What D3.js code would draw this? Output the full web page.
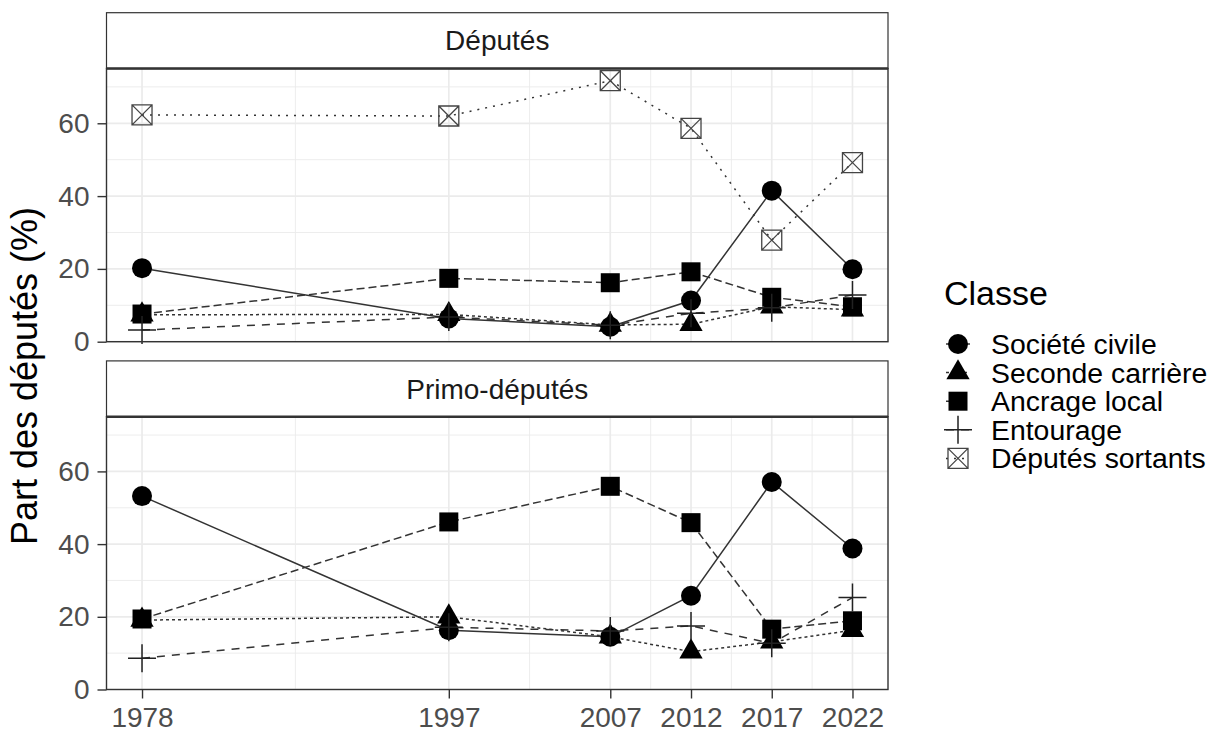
<!DOCTYPE html>
<html>
<head>
<meta charset="utf-8">
<script src="https://cdn.jsdelivr.net/npm/d3@7"></script>
<style>
  html, body { margin: 0; padding: 0; background: #fff; }
  svg { display: block; font-family: "Liberation Sans", Arial, Helvetica, sans-serif; }
</style>
</head>
<body>
<svg id="chart" width="1210" height="733"></svg>
<script>
// ---- data ----
const years = [1978, 1997, 2007, 2012, 2017, 2022];
const classes = ["Société civile", "Seconde carrière", "Ancrage local", "Entourage", "Députés sortants"];
const panels = ["Députés", "Primo-députés"];
const yTicks = [0, 20, 40, 60];
const yMinor = [10, 30, 50, 70];

// Députés panel
const deputesSocieteCivile   = [20.2, 6.4, 4.1, 11.3, 41.5, 19.9];
const deputesSecondeCarriere = [7.4, 7.5, 4.6, 4.8, 9.6, 8.8];
const deputesAncrageLocal    = [7.6, 17.4, 16.2, 19.2, 12.2, 9.6];
const deputesEntourage       = [3.2, 6.8, 4.5, 7.8, 9.3, 12.8];
const deputesSortants        = [62.3, 62.0, 71.7, 58.6, 27.9, 49.2];

// Primo-députés panel
const primoSocieteCivile   = [53.2, 16.3, 14.5, 25.8, 57.1, 38.8];
const primoSecondeCarriere = [19.1, 20.0, 14.5, 10.4, 13.1, 16.3];
const primoAncrageLocal    = [19.4, 46.1, 55.9, 45.9, 16.6, 18.9];
const primoEntourage       = [8.6, 17.1, 16.1, 17.5, 12.7, 25.3];

const panelData = [
  [deputesSocieteCivile, deputesSecondeCarriere, deputesAncrageLocal, deputesEntourage, deputesSortants],
  [primoSocieteCivile, primoSecondeCarriere, primoAncrageLocal, primoEntourage, null]
];

// ---- styles ----
const dashes = [null, "3,3", "8,4", "8,7", "2,6"];
const FONT_TICK = 28;
const gridCol = "#EBEBEB";
const dark = "#333333";

const svg = d3.select("#chart");

const left = 106.5, right = 888;
const x = d3.scaleLinear().domain([1975.8, 2024.2]).range([left, right]);
const panelBoxes = [
  { stripTop: 12.7, top: 68.5, bottom: 341.7 },
  { stripTop: 360.9, top: 416.7, bottom: 689.5 }
];

// Symbol drawer
function drawSymbol(g, k, cx, cy) {
  if (k === 0) {
    g.append("circle").attr("cx", cx).attr("cy", cy).attr("r", 10).attr("fill", "#000");
  } else if (k === 1) {
    g.append("path").attr("transform", `translate(${cx},${cy})`)
      .attr("d", d3.symbol().type(d3.symbolTriangle).size(235)()).attr("fill", "#000");
  } else if (k === 2) {
    g.append("rect").attr("x", cx - 9.5).attr("y", cy - 9.5).attr("width", 19).attr("height", 19).attr("fill", "#000");
  } else if (k === 3) {
    g.append("path").attr("d", `M${cx-14},${cy}H${cx+14}M${cx},${cy-14}V${cy+14}`)
      .attr("stroke", "#222").attr("stroke-width", 1.5).attr("fill", "none");
  } else {
    const h = 10;
    g.append("path").attr("d",
      `M${cx-h},${cy-h}H${cx+h}V${cy+h}H${cx-h}Z M${cx-h},${cy-h}L${cx+h},${cy+h} M${cx+h},${cy-h}L${cx-h},${cy+h}`)
      .attr("stroke", "#444").attr("stroke-width", 1.3).attr("fill", "none");
  }
}

panelBoxes.forEach((pb, pi) => {
  const y = d3.scaleLinear().domain([0, 75.05]).range([pb.bottom, pb.top]);
  const g = svg.append("g");

  // background
  g.append("rect").attr("x", left).attr("y", pb.top).attr("width", right - left).attr("height", pb.bottom - pb.top).attr("fill", "#fff");

  // minor grid
  const xMinor = d3.pairs(years).map(([a, b]) => (a + b) / 2);
  xMinor.forEach(v => g.append("line").attr("x1", x(v)).attr("x2", x(v)).attr("y1", pb.top).attr("y2", pb.bottom)
    .attr("stroke", gridCol).attr("stroke-width", 0.9));
  yMinor.forEach(v => g.append("line").attr("x1", left).attr("x2", right).attr("y1", y(v)).attr("y2", y(v))
    .attr("stroke", gridCol).attr("stroke-width", 0.9));
  // major grid
  years.forEach(v => g.append("line").attr("x1", x(v)).attr("x2", x(v)).attr("y1", pb.top).attr("y2", pb.bottom)
    .attr("stroke", gridCol).attr("stroke-width", 1.7));
  yTicks.forEach(v => g.append("line").attr("x1", left).attr("x2", right).attr("y1", y(v)).attr("y2", y(v))
    .attr("stroke", gridCol).attr("stroke-width", 1.7));

  // lines
  const line = d3.line().x((d, i) => x(years[i])).y(d => y(d));
  panelData[pi].forEach((vals, k) => {
    if (!vals) return;
    g.append("path").attr("d", line(vals)).attr("fill", "none")
      .attr("stroke", dark).attr("stroke-width", 1.5)
      .attr("stroke-dasharray", dashes[k]);
  });
  // points
  panelData[pi].forEach((vals, k) => {
    if (!vals) return;
    vals.forEach((v, i) => drawSymbol(g, k, x(years[i]), y(v)));
  });

  // panel border
  g.append("rect").attr("x", left).attr("y", pb.top).attr("width", right - left).attr("height", pb.bottom - pb.top)
    .attr("fill", "none").attr("stroke", dark).attr("stroke-width", 1.4);

  // strip
  g.append("rect").attr("x", left).attr("y", pb.stripTop).attr("width", right - left).attr("height", pb.top - pb.stripTop)
    .attr("fill", "#fff").attr("stroke", dark).attr("stroke-width", 1.2);
  g.append("line").attr("x1", left).attr("x2", right).attr("y1", pb.top).attr("y2", pb.top)
    .attr("stroke", dark).attr("stroke-width", 2.6);
  g.append("text").attr("x", (left + right) / 2).attr("y", (pb.stripTop + pb.top) / 2).attr("dy", "0.35em")
    .attr("text-anchor", "middle").attr("font-size", FONT_TICK).attr("fill", "#1A1A1A").text(panels[pi]);

  // y axis
  const ya = g.append("g").attr("transform", `translate(${left},0)`)
    .call(d3.axisLeft(y).tickValues(yTicks).tickSize(9).tickPadding(8));
  ya.select(".domain").remove();
  ya.selectAll(".tick line").attr("stroke", dark).attr("stroke-width", 1.4);
  ya.selectAll(".tick text").attr("font-size", FONT_TICK).attr("fill", "#4D4D4D").attr("font-family", null);

  if (pi === 1) {
    const xa = g.append("g").attr("transform", `translate(0,${pb.bottom})`)
      .call(d3.axisBottom(x).tickValues(years).tickFormat(d3.format("d")).tickSize(9).tickPadding(9));
    xa.select(".domain").remove();
    xa.selectAll(".tick line").attr("stroke", dark).attr("stroke-width", 1.4);
    xa.selectAll(".tick text").attr("font-size", FONT_TICK).attr("fill", "#4D4D4D").attr("font-family", null);
  }
});

// y title
svg.append("text").attr("transform", "translate(37,376) rotate(-90)")
  .attr("text-anchor", "middle").attr("font-size", 36).attr("fill", "#000").text("Part des députés (%)");

// legend
const lg = svg.append("g");
lg.append("text").attr("x", 944).attr("y", 305).attr("font-size", 34).attr("fill", "#000").text("Classe");
classes.forEach((c, k) => {
  const cy = 344 + k * 28.6;
  lg.append("line").attr("x1", 946).attr("x2", 970).attr("y1", cy).attr("y2", cy)
    .attr("stroke", dark).attr("stroke-width", 1.5).attr("stroke-dasharray", dashes[k]);
  drawSymbol(lg, k, 958, cy);
  lg.append("text").attr("x", 991).attr("y", cy).attr("dy", "0.35em").attr("font-size", 28.4).attr("fill", "#000").text(c);
});
</script>
</body>
</html>
